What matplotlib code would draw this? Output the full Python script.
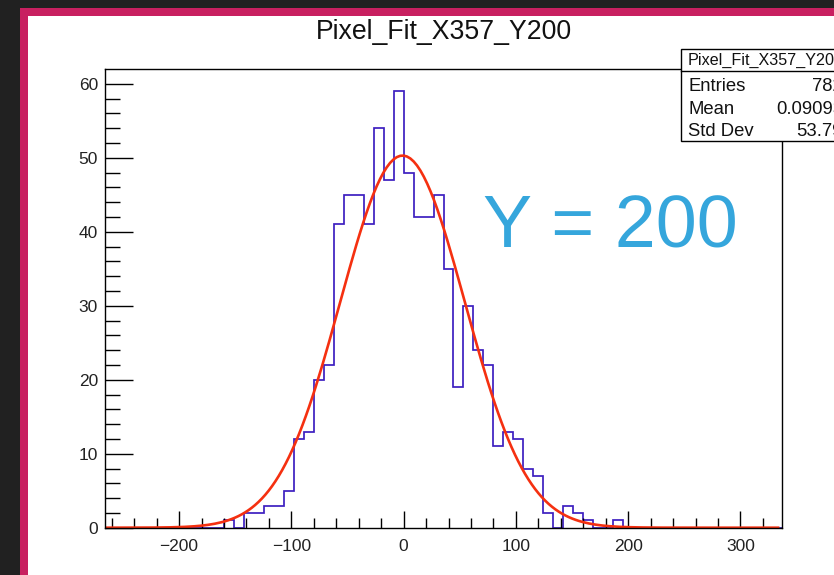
import numpy as np
import matplotlib
matplotlib.use('Agg')
import matplotlib.pyplot as plt
from matplotlib.patches import Rectangle
from matplotlib.lines import Line2D

plt.rcParams['font.family'] = ['Liberation Sans', 'DejaVu Sans']

# histogram: 68 bins over [-266, 337]
x_min, x_max = -266.0, 337.0
n_bins = 68
counts = [0, 0, 0, 0, 0, 0, 0, 0, 0, 0, 0, 0,
          1, 0, 2, 2, 3, 3, 5, 12, 13, 20, 22, 41, 45, 45, 41, 54, 47, 59,
          48, 42, 42, 45, 35, 19, 30, 24, 22, 11, 13, 12, 8, 7, 2, 0, 3, 2,
          1, 0, 0, 1,
          0, 0, 0, 0, 0, 0, 0, 0, 0, 0, 0, 0, 0, 0, 0, 0]

# gaussian fit parameters
fit_const = 50.3
fit_mean = -1.0
fit_sigma = 55.5
fit_range = (-264.5, 333.5)

hist_name = 'Pixel_Fit_X357_Y200'
stats_labels = ['Entries', 'Mean', 'Std Dev']
stats_values = ['782', '0.09093', '53.79']

W, H = 834, 575
fig = plt.figure(figsize=(W / 100, H / 100), dpi=100, facecolor='#212121')


def fx(x):
    return x / W


def fy(y):
    return 1 - y / H


# window frame
fig.patches.append(Rectangle((fx(20), 0), 1, fy(8), transform=fig.transFigure,
                             facecolor='#c82060', edgecolor='none', zorder=-2))
fig.patches.append(Rectangle((fx(28), 0), 1, fy(16), transform=fig.transFigure,
                             facecolor='white', edgecolor='none', zorder=-1))

ax = fig.add_axes([fx(105), fy(527.7), fx(782) - fx(105), fy(69) - fy(527.7)])
ax.set_zorder(1)
ax.set_facecolor('white')

edges = np.linspace(x_min, x_max, n_bins + 1)
ax.stairs(counts, edges, color='#3d1fc0', linewidth=1.25, baseline=0)

xf = np.linspace(fit_range[0], fit_range[1], 200)
yf = fit_const * np.exp(-0.5 * ((xf - fit_mean) / fit_sigma) ** 2)
ax.plot(xf, yf, color='#f53010', linewidth=1.9)

ax.set_xlim(x_min, x_max)
ax.set_ylim(0, 62)
ax.set_xticks([-200, -100, 0, 100, 200, 300])
ax.set_xticks(np.arange(-260, 337, 20), minor=True)
ax.set_yticks(np.arange(0, 61, 10))
ax.set_yticks(np.arange(0, 62, 2), minor=True)
ax.tick_params(axis='both', which='both', direction='in', colors='black',
               labelsize=12.5, labelcolor='#222222')
ax.tick_params(axis='x', which='major', length=12, width=1, pad=8)
ax.tick_params(axis='x', which='minor', length=7, width=1)
ax.tick_params(axis='y', which='major', length=20, width=1, pad=5)
ax.tick_params(axis='y', which='minor', length=11, width=1)
for s in ax.spines.values():
    s.set_linewidth(1.0)

fig.text(fx(444), fy(32), hist_name, ha='center', va='center', fontsize=19.2,
         color='#111111')

ax.text(0.558, 0.61, 'Y = 200', transform=ax.transAxes, fontsize=53,
        color='#35a6dc', ha='left', va='baseline')

# stats box, running past the right edge
box_l, box_t, box_b, box_div = 680.7, 49.3, 140.7, 71
fig.patches.append(Rectangle((fx(box_l), fy(box_b)), fx(900) - fx(box_l),
                             fy(box_t) - fy(box_b), transform=fig.transFigure,
                             facecolor='white', edgecolor='black', linewidth=1.0,
                             zorder=5))
fig.lines.append(Line2D([fx(box_l), fx(900)], [fy(box_div), fy(box_div)],
                        transform=fig.transFigure, color='black', linewidth=1.0,
                        zorder=6))
fig.text(fx(688), fy(60), hist_name, ha='left', va='center', fontsize=11.6,
         color='#111111', zorder=7)
for i, (lab, val) in enumerate(zip(stats_labels, stats_values)):
    yb = [90.7, 113.7, 136.0][i]
    fig.text(fx(688), fy(yb), lab, ha='left', va='baseline', fontsize=13.3,
             color='#111111', zorder=7)
    fig.text(fx(843), fy(yb), val, ha='right', va='baseline', fontsize=13.3,
             color='#111111', zorder=7)

fig.savefig('out.png', dpi=100, facecolor=fig.get_facecolor())
